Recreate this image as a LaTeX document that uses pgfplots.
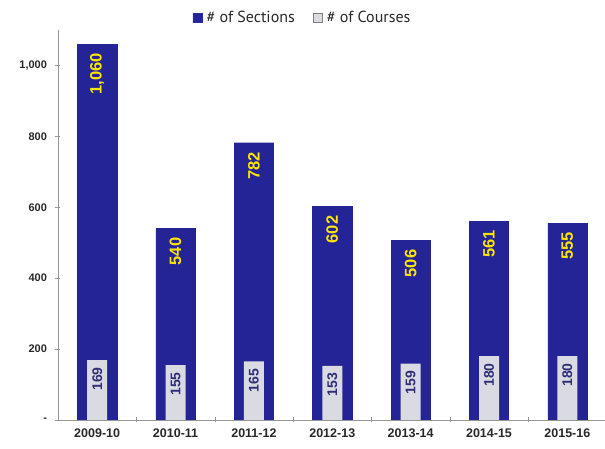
\documentclass[border=0pt]{standalone}
\usepackage{pgfplots}
\pgfplotsset{compat=1.18}
\usepackage{fontspec}
\setmainfont{Liberation Sans}
\newfontfamily\legfont{PT Sans}
\definecolor{secblue}{RGB}{42,42,170}
\definecolor{secedge}{RGB}{36,36,150}
\definecolor{secmid}{RGB}{56,56,188}
\definecolor{coursegray}{RGB}{218,218,226}
\definecolor{coursemid}{RGB}{245,245,248}
\definecolor{coursetext}{RGB}{46,46,120}
\definecolor{labyellow}{RGB}{250,230,0}
\definecolor{axgray}{RGB}{150,150,150}
\definecolor{txt}{RGB}{40,40,40}
\begin{document}
\begin{tikzpicture}
\useasboundingbox (-58pt,-29pt) rectangle (547pt,420pt);
\begin{axis}[
  scale only axis, width=547pt, height=390pt,
  xmin=-0.5, xmax=6.48, ymin=0, ymax=1100,
  axis lines=left, axis line style={-, draw=axgray},
  /pgf/number format/assume math mode=true,
  xtick={0.5,1.5,...,5.5}, xticklabels={},
  tick align=center, major tick length=5pt,
  tick style={draw=axgray},
  extra x ticks={0,1,2,3,4,5,6},
  extra x tick labels={2009-10,2010-11,2011-12,2012-13,2013-14,2014-15,2015-16},
  extra x tick style={major tick length=0pt, xticklabel style={font=\fontsize{12.5}{12.5}\selectfont\bfseries, text=txt, yshift=-5pt}},
  ytick={0,200,400,600,800,1000},
  yticklabels={-,200,400,600,800,{1,000}},
  yticklabel style={font=\fontsize{11}{11}\selectfont\bfseries, text=txt, xshift=-5pt},
  legend style={at={(0.447,1.031)}, anchor=center, draw=none, fill=none,
    legend columns=2, font=\legfont\fontsize{16}{16}\selectfont, text=txt,
    /tikz/every even column/.append style={column sep=16pt},
    legend cell align=left},
]
\addplot[ybar, bar width=0.5, bar shift=0pt, left color=secedge, middle color=secmid, right color=secedge, draw=secedge,
  legend image code/.code={\fill[secblue] (0pt,-4.5pt) rectangle (9pt,4.5pt);},
  nodes near coords,
  nodes near coords style={rotate=90, anchor=east, inner xsep=9pt, text=labyellow,
    font=\fontsize{16.5}{16.5}\selectfont\bfseries}]
  coordinates {(0,1060) (1,540) (2,782) (3,602) (4,506) (5,561) (6,555)};
\addlegendentry{\,\# of Sections}
\addplot[ybar, bar width=0.255, bar shift=0pt, left color=coursegray, middle color=coursemid, right color=coursegray, draw=none,
  legend image code/.code={\filldraw[fill=coursegray!60!white, draw=gray] (0pt,-4.5pt) rectangle (9pt,4.5pt);},
  nodes near coords,
  nodes near coords style={rotate=90, anchor=east, inner xsep=7pt, text=coursetext,
    font=\fontsize{14}{14}\selectfont\bfseries}]
  coordinates {(0,169) (1,155) (2,165) (3,153) (4,159) (5,180) (6,180)};
\addlegendentry{\,\# of Courses}
\end{axis}
\end{tikzpicture}
\end{document}
